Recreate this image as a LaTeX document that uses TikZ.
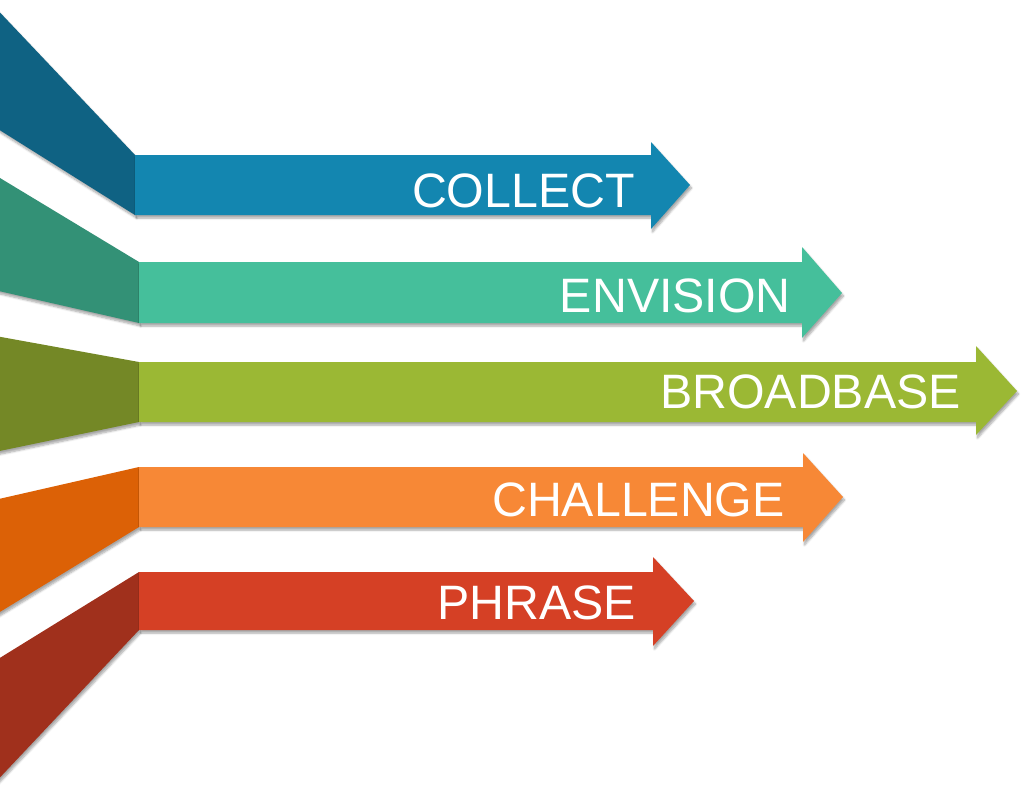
\documentclass[tikz,border=0pt]{standalone}
\usepackage{fontspec}
\setmainfont{Liberation Sans}
\usetikzlibrary{shadows.blur}
\definecolor{cA}{HTML}{1386B0}\definecolor{cAd}{HTML}{0F6283}
\definecolor{cB}{HTML}{45BF9B}\definecolor{cBd}{HTML}{339176}
\definecolor{cC}{HTML}{9BB834}\definecolor{cCd}{HTML}{748826}
\definecolor{cD}{HTML}{F78836}\definecolor{cDd}{HTML}{DC6106}
\definecolor{cE}{HTML}{D54025}\definecolor{cEd}{HTML}{A0301C}
\tikzset{
  band/.style={fill=#1, draw=none, blur shadow={shadow xshift=1.5pt, shadow yshift=-3pt, shadow blur steps=6, shadow opacity=35}},
  lab/.style={anchor=base east, inner sep=0pt, text=white, font=\fontsize{48.3}{50}\selectfont}
}
\begin{document}
\begin{tikzpicture}[x=1pt,y=-1pt]
\useasboundingbox (0,0) rectangle (1024,797);
\clip (0,0) rectangle (1024,797);
% slanted parts
\path[band=cAd] (-10,2) -- (135,155) -- (135,215) -- (-10,124) -- cycle;
\path[band=cBd] (-10,172) -- (139,262) -- (139,323) -- (-10,289) -- cycle;
\path[band=cCd] (-10,335) -- (139,362) -- (139,422) -- (-10,453) -- cycle;
\path[band=cDd] (-10,501) -- (139,467) -- (139,527) -- (-10,618) -- cycle;
\path[band=cEd] (-10,664) -- (139,572) -- (139,630) -- (-10,788) -- cycle;
% shafts with heads
\path[band=cA] (135,155) -- (651,155) -- (651,142) -- (690,185) -- (651,229) -- (651,215) -- (135,215) -- cycle;
\path[band=cB] (139,262) -- (802,262) -- (802,247) -- (842,293) -- (802,338) -- (802,323) -- (139,323) -- cycle;
\path[band=cC] (139,362) -- (976,362) -- (976,346) -- (1017,391) -- (976,435) -- (976,422) -- (139,422) -- cycle;
\path[band=cD] (139,467) -- (803,467) -- (803,453) -- (843,497) -- (803,542) -- (803,527) -- (139,527) -- cycle;
\path[band=cE] (139,572) -- (653,572) -- (653,557) -- (694,601) -- (653,646) -- (653,630) -- (139,630) -- cycle;
% labels
\node[lab] (collect) at (635,207) {COLLECT};
\node[lab] (envision) at (791,312) {ENVISION};
\node[lab] (broadbase) at (961,408) {BROADBASE};
\node[lab] (challenge) at (785,516) {CHALLENGE};
\node[lab] (phrase) at (636,619) {PHRASE};
\end{tikzpicture}
\end{document}
